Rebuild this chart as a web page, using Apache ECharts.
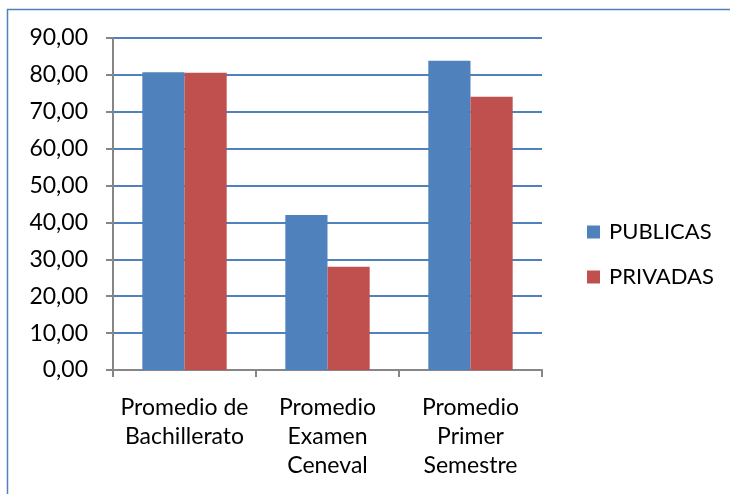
<!DOCTYPE html>
<html><head><meta charset="utf-8">
<script src="https://cdn.jsdelivr.net/npm/echarts@6/dist/echarts.min.js"></script>
<style>html,body{margin:0;padding:0;background:#fff}#c{width:730px;height:494px}</style>
</head><body><div id="c"></div>
<script>
const categories = ["Promedio de\nBachillerato", "Promedio\nExamen\nCeneval", "Promedio\nPrimer\nSemestre"];
const publicas = [80.7, 42.0, 83.8];
const privadas = [80.6, 28.0, 74.1];
const yTicks = {min: 0, max: 90, interval: 10};

const chart = echarts.init(document.getElementById('c'));
const font = 'Lato, "Open Sans", sans-serif';
chart.setOption({
  animation: false,
  graphic: [{type:'rect', shape:{x:7.5,y:9.5,width:740,height:500}, style:{fill:'none', stroke:'#4F81BD', lineWidth:1.5}}],
  grid: {left:113, right:188, top:38, bottom:124},
  legend: {
    orient:'vertical', left:582, top:216, itemGap:23, itemWidth:13, itemHeight:13, icon:'rect',
    textStyle:{fontFamily:font, fontSize:22, color:'#000', padding:[0,0,0,4]},
    data:['PUBLICAS','PRIVADAS']
  },
  xAxis: {
    type:'category', data:categories,
    axisLine:{lineStyle:{color:'#868686', width:2}},
    axisTick:{show:true, length:7, lineStyle:{color:'#868686', width:2}},
    axisLabel:{fontFamily:font, fontSize:23, color:'#000', lineHeight:29, margin:23, interval:0}
  },
  yAxis: {
    type:'value', min:yTicks.min, max:yTicks.max, interval:yTicks.interval,
    axisLine:{show:true, lineStyle:{color:'#868686', width:2}},
    axisTick:{show:true, length:7, lineStyle:{color:'#868686', width:2}},
    splitLine:{lineStyle:{color:'#4F81BD', width:2}},
    axisLabel:{fontFamily:font, fontSize:23, color:'#000', margin:25,
      formatter: v => v.toFixed(2).replace('.', ',')}
  },
  series: [
    {name:'PUBLICAS', type:'bar', data:publicas, barGap:'0%', barCategoryGap:'41%', itemStyle:{color:'#4F81BD'}},
    {name:'PRIVADAS', type:'bar', data:privadas, itemStyle:{color:'#C0504D'}}
  ]
});
</script></body></html>
